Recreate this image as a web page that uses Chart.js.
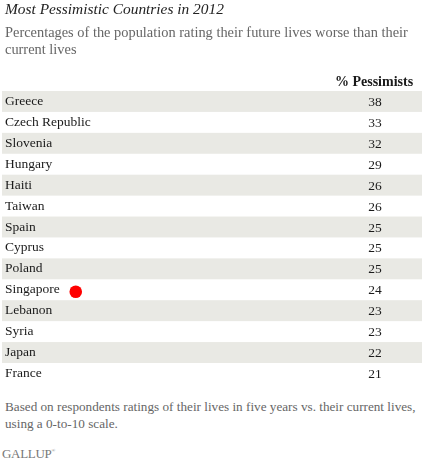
<!DOCTYPE html>
<html>
<head>
<meta charset="utf-8">
<script src="https://cdn.jsdelivr.net/npm/chart.js@4.4.1/dist/chart.umd.min.js"></script>
<style>
  html, body { margin: 0; padding: 0; background: #fff; }
  #wrap { position: relative; width: 424px; height: 464px; overflow: hidden; }
  #c { position: absolute; left: 0; top: 0; }
  .note { position: absolute; left: 5px; font-family: "Liberation Serif", serif; color: #666; white-space: nowrap; }
  #foot { top: 398px; font-size: 13.2px; line-height: 17px; }
  #logo { top: 446px; left: 2px; font-size: 13px; color: #777; letter-spacing: -0.3px; }
  #logo sup { font-size: 5px; vertical-align: 6px; }
</style>
</head>
<body>
<div id="wrap">
  <canvas id="c" width="424" height="392"></canvas>
  <div id="foot" class="note">Based on respondents ratings of their lives in five years vs. their current lives,<br>using a 0-to-10 scale.</div>
  <div id="logo" class="note">GALLUP<sup>®</sup></div>
</div>
<script>
const titleText = 'Most Pessimistic Countries in 2012';
const subtitleLines = ['Percentages of the population rating their future lives worse than their', 'current lives'];
const columnHeader = '% Pessimists';
const countries = ['Greece', 'Czech Republic', 'Slovenia', 'Hungary', 'Haiti', 'Taiwan', 'Spain', 'Cyprus', 'Poland', 'Singapore', 'Lebanon', 'Syria', 'Japan', 'France'];
const pessimists = [38, 33, 32, 29, 26, 26, 25, 25, 25, 24, 23, 23, 22, 21];
const highlighted = ['Singapore'];

const SERIF = '"Liberation Serif", "DejaVu Serif", serif';
const BAND = '#e9e9e4';
const TEXT = '#1a1a1a';

const tablePlugin = {
  id: 'tablePlugin',
  beforeDraw(chart) {
    const { ctx, chartArea, scales } = chart;
    const y = scales.y;
    const n = chart.data.labels.length;
    const h = chartArea.height / n;
    ctx.save();
    ctx.fillStyle = BAND;
    for (let i = 0; i < n; i += 2) {
      const cy = y.getPixelForValue(i);
      ctx.fillRect(chartArea.left - 3, cy - h / 2, chartArea.right - chartArea.left + 3, h);
    }
    ctx.restore();
  },
  afterDatasetsDraw(chart) {
    const { ctx, chartArea, scales } = chart;
    const y = scales.y;
    const colX = chartArea.right - 47;
    ctx.save();
    // header
    ctx.font = 'bold 14px ' + SERIF;
    ctx.fillStyle = TEXT;
    ctx.textAlign = 'center';
    ctx.textBaseline = 'alphabetic';
    ctx.fillText(columnHeader, colX - 1, chartArea.top - 5);
    // values
    ctx.font = '13.5px ' + SERIF;
    ctx.textBaseline = 'middle';
    const meta = chart.getDatasetMeta(0);
    meta.data.forEach((el, i) => {
      ctx.fillText(String(chart.data.datasets[0].data[i]), colX, el.y + 1);
    });
    // highlight markers
    highlighted.forEach(name => {
      const idx = chart.data.labels.indexOf(name);
      if (idx < 0) return;
      const w = ctx.measureText(name).width;
      const cx = chartArea.left + w + 16;
      const cy = y.getPixelForValue(idx) + 2;
      ctx.beginPath();
      ctx.arc(cx, cy, 6.3, 0, Math.PI * 2);
      ctx.fillStyle = '#ff0000';
      ctx.fill();
    });
    ctx.restore();
  }
};

new Chart(document.getElementById('c'), {
  type: 'bar',
  data: {
    labels: countries,
    datasets: [{
      label: columnHeader,
      data: pessimists,
      backgroundColor: 'rgba(0,0,0,0)',
      borderWidth: 0,
      barPercentage: 1,
      categoryPercentage: 1
    }]
  },
  options: {
    indexAxis: 'y',
    responsive: false,
    animation: false,
    devicePixelRatio: 1,
    layout: { padding: { left: 5, right: 2, top: 0, bottom: 7 } },
    plugins: {
      legend: { display: false },
      tooltip: { enabled: false },
      title: {
        display: true,
        text: titleText,
        align: 'start',
        color: '#222',
        font: { family: SERIF, size: 15.4, style: 'italic', weight: 'normal', lineHeight: 18 / 15.4 },
        padding: { top: 1, bottom: 3 }
      },
      subtitle: {
        display: true,
        text: subtitleLines,
        align: 'start',
        color: '#666',
        font: { family: SERIF, size: 14.4, weight: 'normal', lineHeight: 17 / 14.4 },
        padding: { top: 3, bottom: 32 }
      }
    },
    scales: {
      x: { display: false, min: 0, max: 100 },
      y: {
        grid: { display: false, drawTicks: false },
        border: { display: false },
        ticks: {
          mirror: true,
          padding: 0,
          color: TEXT,
          font: { family: SERIF, size: 13.5 }
        }
      }
    }
  },
  plugins: [tablePlugin]
});
</script>
</body>
</html>
